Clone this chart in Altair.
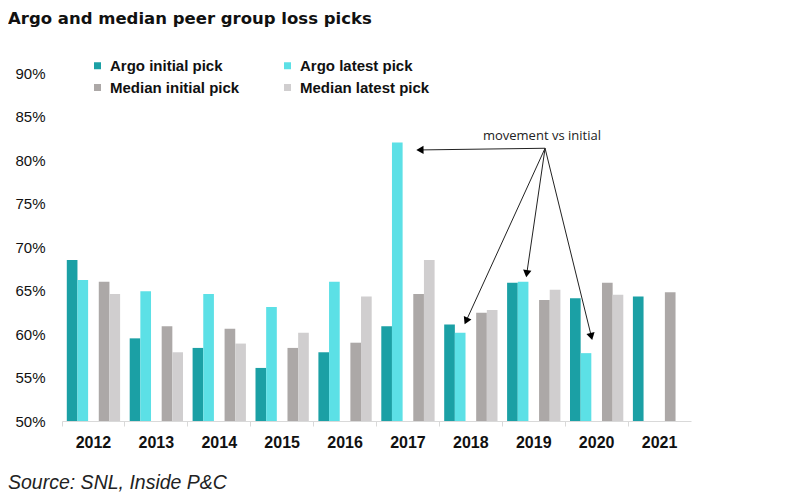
import math
import altair as alt
import pandas as pd

# ---------------- data ----------------
years = ["2012", "2013", "2014", "2015", "2016", "2017", "2018", "2019", "2020", "2021"]
argo_initial = [68.5, 59.5, 58.4, 56.1, 57.9, 60.9, 61.1, 65.9, 64.1, 64.3]
argo_latest = [66.2, 64.9, 64.6, 63.1, 66.0, 82.0, 60.15, 66.0, 57.8, None]
median_initial = [66.0, 60.9, 60.6, 58.4, 59.0, 64.6, 62.45, 63.9, 65.9, 64.8]
median_latest = [64.6, 57.9, 58.9, 60.15, 64.3, 68.5, 62.75, 65.1, 64.5, None]

series_names = ["Argo initial pick", "Argo latest pick", "Median initial pick", "Median latest pick"]
series_colors = ["#1BA0A5", "#5CE0E6", "#ACA8A7", "#D0CECF"]
y_ticks = [50, 55, 60, 65, 70, 75, 80, 85, 90]

title_text = "Argo and median peer group loss picks"
source_text = "Source: SNL, Inside P&C"
annot_text = "movement vs initial"

# annotation anchor (year-position, value) and arrow targets
annot_origin = (2019.18, 81.35)
annot_label_pos = (2019.13, 82.8)
arrow_targets_year = [2017.13, 2017.90, 2018.88, 2019.93]
arrow_targets_value = [81.15, 61.1, 66.5, 59.3]

# ---------------- layout ----------------
W, H = 629, 348
Y_MIN, Y_MAX = 50, 90
X_MIN, X_MAX = 2011.5, 2021.5

rows = []
for name, vals in zip(series_names, [argo_initial, argo_latest, median_initial, median_latest]):
    for y, v in zip(years, vals):
        if v is not None:
            rows.append({"year": y, "series": name, "value": v})
bars_df = pd.DataFrame(rows)

# arrows (computed in data space, heads backed off a few px along the line)
px_x = W / (X_MAX - X_MIN)
px_y = H / (Y_MAX - Y_MIN)
arrow_rows, head_rows = [], []
for tx, ty in zip(arrow_targets_year, arrow_targets_value):
    dxp = (tx - annot_origin[0]) * px_x
    dyp = -(ty - annot_origin[1]) * px_y
    L = math.hypot(dxp, dyp)
    ux, uy = dxp / L, dyp / L
    back = 5
    hx = tx - ux * back / px_x
    hy = ty + uy * back / px_y
    ang = (math.degrees(math.atan2(dxp, -dyp)) + 360) % 360
    arrow_rows.append({"x": annot_origin[0], "y": annot_origin[1], "x2": hx, "y2": hy})
    head_rows.append({"x": hx, "y": hy, "angle": ang})
arrows_df = pd.DataFrame(arrow_rows)
heads_df = pd.DataFrame(head_rows)

FONT = "Liberation Sans"

bars = alt.Chart(bars_df).mark_bar().encode(
    x=alt.X("year:N", sort=years,
            scale=alt.Scale(paddingInner=0, paddingOuter=0),
            axis=alt.Axis(title=None, labelAngle=0, labelFont=FONT, labelFontSize=16,
                          labelFontWeight="bold", labelColor="#111111", labelPadding=8,
                          domainColor="#D9D9D9", tickColor="#D9D9D9", tickSize=5,
                          bandPosition=0, grid=False)),
    xOffset=alt.XOffset("series:N",
                        scale=alt.Scale(domain=[series_names[0], series_names[1], "gap",
                                                series_names[2], series_names[3]],
                                        paddingInner=0, paddingOuter=0.45)),
    y=alt.Y("value:Q",
            scale=alt.Scale(domain=[Y_MIN, Y_MAX], zero=False, nice=False),
            axis=alt.Axis(title=None, values=y_ticks, labelExpr="datum.value + '%'",
                          labelFont=FONT, labelFontSize=15, labelColor="#111111",
                          labelPadding=17, domain=False, ticks=False, grid=False)),
    y2=alt.datum(Y_MIN),
    color=alt.Color("series:N",
                    scale=alt.Scale(domain=series_names, range=series_colors),
                    legend=alt.Legend(title=None, orient="none", legendX=28, legendY=-15,
                                      columns=2, direction="horizontal",
                                      symbolType="square", symbolSize=49, symbolStrokeWidth=0,
                                      labelFont=FONT, labelFontSize=15, labelFontWeight="bold",
                                      labelColor="#111111", labelOffset=5,
                                      columnPadding=40, rowPadding=6)),
)

xq = alt.Scale(domain=[X_MIN, X_MAX], nice=False, zero=False)

arrow_lines = alt.Chart(arrows_df).mark_rule(color="#222222", strokeWidth=1).encode(
    x=alt.X("x:Q", scale=xq, axis=None),
    x2="x2:Q",
    y="y:Q",
    y2="y2:Q",
)

arrow_heads = alt.Chart(heads_df).mark_point(shape="triangle", filled=True, color="#000000",
                                            size=70, opacity=1).encode(
    x=alt.X("x:Q", scale=xq, axis=None),
    y="y:Q",
    angle=alt.Angle("angle:Q", scale=None),
)

annot_label = alt.Chart(pd.DataFrame({"x": [annot_label_pos[0]], "y": [annot_label_pos[1]],
                                      "t": [annot_text]})).mark_text(
    font="Open Sans", fontSize=13, color="#222222", align="center", baseline="middle"
).encode(x=alt.X("x:Q", scale=xq, axis=None), y="y:Q", text="t:N")

title = alt.Chart(pd.DataFrame({"t": [title_text]})).mark_text(
    font="DejaVu Sans", fontSize=16.5, fontWeight="bold", color="#111111", align="left",
    baseline="top"
).encode(x=alt.value(-54), y=alt.value(-62), text="t:N")

source = alt.Chart(pd.DataFrame({"t": [source_text]})).mark_text(
    font=FONT, fontSize=19.5, fontStyle="italic", color="#222222", align="left",
    baseline="alphabetic"
).encode(x=alt.value(-54), y=alt.value(H + 68), text="t:N")

chart = alt.layer(bars, arrow_lines, arrow_heads, annot_label, title, source).resolve_scale(
    x="independent"
).properties(
    width=W, height=H, padding={"left": 0, "top": 3, "right": 5, "bottom": 0}
).configure(background="white").configure_view(stroke=None)

chart.save("out.html", embed_options={"renderer": "svg", "actions": False})
